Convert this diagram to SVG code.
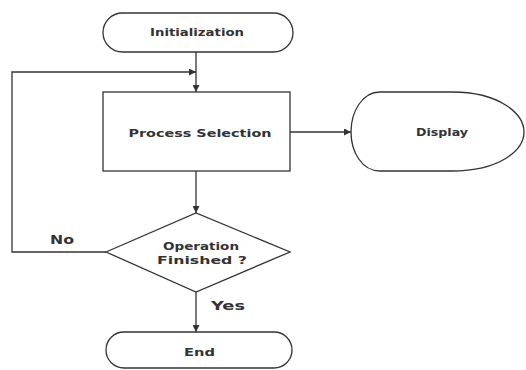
<svg xmlns="http://www.w3.org/2000/svg" width="526" height="370" viewBox="0 0 526 370">
<style>
.shape{fill:#fff;stroke:#333;stroke-width:1.3}
.line{fill:none;stroke:#333;stroke-width:1.3}
.t{font-family:"DejaVu Sans","Liberation Sans",sans-serif;font-weight:bold;font-size:11px;fill:#333;text-anchor:middle}
.l{font-family:"DejaVu Sans","Liberation Sans",sans-serif;font-weight:bold;font-size:12px;fill:#333}
</style>
<defs>
<marker id="arr" viewBox="0 0 10 10" refX="10" refY="5" markerWidth="7" markerHeight="7" markerUnits="userSpaceOnUse" orient="auto">
<path d="M0,0 L10,5 L0,10 Z" fill="#333"/>
</marker>
</defs>
<rect width="526" height="370" fill="#fff"/>
<g id="connectors">
<path class="line" d="M196,52 L196,92" marker-end="url(#arr)"/>
<path class="line" d="M106,252 L12,252 L12,72 L196,72" marker-end="url(#arr)"/>
<path class="line" d="M290,132 L351,132" marker-end="url(#arr)"/>
<path class="line" d="M196,171 L196,213" marker-end="url(#arr)"/>
<path class="line" d="M196,292 L196,332" marker-end="url(#arr)"/>
<text class="l" x="50" y="244" textLength="24" lengthAdjust="spacingAndGlyphs">No</text>
<text class="l" x="211" y="310" textLength="34" lengthAdjust="spacingAndGlyphs">Yes</text>
</g>
<g id="init">
<rect class="shape" x="103" y="13" width="190" height="39" rx="19.5"/>
<text class="t" x="197" y="36" textLength="94" lengthAdjust="spacingAndGlyphs">Initialization</text>
</g>
<g id="process">
<rect class="shape" x="103" y="92" width="187" height="79"/>
<text class="t" x="200" y="137" textLength="143" lengthAdjust="spacingAndGlyphs">Process Selection</text>
</g>
<g id="display">
<path class="shape" d="M380,92 L452,92 C500,92 524,114 524,132 C524,150 500,171 452,171 L380,171 C362,171 351,152 351,132 C351,112 362,92 380,92 Z"/>
<text class="t" x="442" y="136" textLength="52" lengthAdjust="spacingAndGlyphs">Display</text>
</g>
<g id="decision">
<polygon class="shape" points="106,252 196,213 290,252 196,292"/>
<text class="t" x="201" y="250" textLength="76" lengthAdjust="spacingAndGlyphs">Operation</text>
<text class="t" x="202" y="264" textLength="90" lengthAdjust="spacingAndGlyphs">Finished ?</text>
</g>
<g id="end">
<rect class="shape" x="106" y="332" width="186" height="36" rx="18"/>
<text class="t" x="199.5" y="356" textLength="31" lengthAdjust="spacingAndGlyphs">End</text>
</g>
</svg>
